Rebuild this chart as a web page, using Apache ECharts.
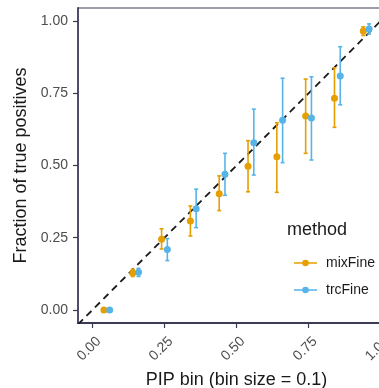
<!DOCTYPE html>
<html><head><meta charset="utf-8">
<script src="https://cdn.jsdelivr.net/npm/echarts@6/dist/echarts.min.js"></script>
<style>html,body{margin:0;padding:0;background:#fff}#c{width:379px;height:388px}</style>
</head><body><div id="c"></div>
<script>
const binCenters = [0.05,0.15,0.25,0.35,0.45,0.55,0.65,0.75,0.85,0.95];
const mixFine    = [0.000,0.128,0.245,0.308,0.402,0.497,0.530,0.671,0.733,0.965];
const mixLow     = [0.000,0.116,0.211,0.256,0.344,0.409,0.407,0.542,0.632,0.950];
const mixHigh    = [0.000,0.141,0.281,0.360,0.464,0.586,0.648,0.799,0.838,0.980];
const trcFine    = [0.000,0.131,0.209,0.350,0.470,0.579,0.657,0.664,0.810,0.972];
const trcLow     = [0.000,0.116,0.171,0.285,0.397,0.467,0.510,0.519,0.710,0.955];
const trcHigh    = [0.000,0.144,0.247,0.418,0.542,0.695,0.802,0.807,0.911,0.990];
const tickValues = [0,0.25,0.5,0.75,1];
const methods = ['mixFine','trcFine'];
const colors = ['#E69F00','#56B4E9'];
const dodge = 0.01;

const AX = '#3b3b58';
const chart = echarts.init(document.getElementById('c'), null, {renderer:'canvas'});

function errSeries(xs, lo, hi, color){
  return {
    type:'custom', silent:true, z:2,
    data: xs.map((x,i)=>[x, lo[i], hi[i]]),
    renderItem: function(params, api){
      const a = api.coord([api.value(0), api.value(1)]);
      const b = api.coord([api.value(0), api.value(2)]);
      if (Math.abs(a[1]-b[1]) < 0.5) return null;
      const cw = 2;
      const st = {stroke: color, lineWidth: 1.6};
      return {type:'group', children:[
        {type:'line', shape:{x1:a[0],y1:a[1],x2:b[0],y2:b[1]}, style:st},
        {type:'line', shape:{x1:a[0]-cw,y1:a[1],x2:a[0]+cw,y2:a[1]}, style:st},
        {type:'line', shape:{x1:b[0]-cw,y1:b[1],x2:b[0]+cw,y2:b[1]}, style:st}
      ]};
    }
  };
}
const mixX = binCenters.map(c=>c-dodge);
const trcX = binCenters.map(c=>c+dodge);
const legendIcon = 'path://M0,4 L8.5,4 L8.5,5.6 L0,5.6 Z M14.5,4 L23,4 L23,5.6 L14.5,5.6 Z M8.2,4.8 A3.3,3.3 0 1,1 14.8,4.8 A3.3,3.3 0 1,1 8.2,4.8 Z';

chart.setOption({
  animation:false,
  grid:{left:78, top:8, right:-16, bottom:65, containLabel:false, outerBoundsMode:'none'},
  xAxis:{
    type:'value', min:-0.05, max:1.05,
    name:'PIP bin (bin size = 0.1)', nameLocation:'middle', nameGap:48,
    nameTextStyle:{fontSize:18, color:'#1a1a1a', fontFamily:'Liberation Sans'},
    axisLine:{show:true, onZero:false, lineStyle:{color:AX, width:1.8}},
    axisTick:{show:true, customValues:tickValues, length:5, lineStyle:{color:AX, width:1.2}},
    axisLabel:{customValues:tickValues, rotate:45, fontSize:14, color:'#4d4d4d', fontFamily:'Liberation Sans', margin:10,
      verticalAlign:'top', padding:[2,0,0,0], hideOverlap:false, formatter:v=>v.toFixed(2)},
    splitLine:{show:false}
  },
  yAxis:{
    type:'value', min:-0.045, max:1.045,
    name:'Fraction of true positives', nameLocation:'middle', nameGap:42,
    nameTextStyle:{fontSize:18, color:'#1a1a1a', fontFamily:'Liberation Sans'},
    axisLine:{show:true, onZero:false, lineStyle:{color:AX, width:1.8}},
    axisTick:{show:true, customValues:tickValues, length:5, lineStyle:{color:AX, width:1.2}},
    axisLabel:{customValues:tickValues, fontSize:14, color:'#4d4d4d', fontFamily:'Liberation Sans', margin:10,
      formatter:v=>v.toFixed(2)},
    splitLine:{show:false}
  },
  legend:{
    orient:'vertical', left:289, top:251, itemWidth:23, itemHeight:6.6, itemGap:13,
    data:methods.map((m,i)=>({name:m, icon:legendIcon, itemStyle:{color:colors[i]}})),
    textStyle:{fontSize:14, color:'#1a1a1a', fontFamily:'Liberation Sans', padding:[0,0,0,4]},
    selectedMode:false
  },
  graphic:[
    {type:'text', left:287, top:221, style:{text:'method', fontSize:18, fill:'#1a1a1a', fontFamily:'Liberation Sans'}},
    {type:'line', shape:{x1:78, y1:8, x2:379, y2:8}, style:{stroke:AX, lineWidth:1.2}}
  ],
  series:[
    {type:'line', data:[[-0.05,-0.05],[1.05,1.05]], symbol:'none', silent:true, z:1,
      lineStyle:{color:'#1a1a1a', width:1.8, type:[7,5]}},
    errSeries(mixX, mixLow, mixHigh, colors[0]),
    errSeries(trcX, trcLow, trcHigh, colors[1]),
    {name:methods[0], type:'scatter', z:3, symbolSize:7, itemStyle:{color:colors[0], opacity:1},
      data:mixX.map((x,i)=>[x, mixFine[i]])},
    {name:methods[1], type:'scatter', z:3, symbolSize:7, itemStyle:{color:colors[1], opacity:1},
      data:trcX.map((x,i)=>[x, trcFine[i]])}
  ]
});
</script></body></html>
